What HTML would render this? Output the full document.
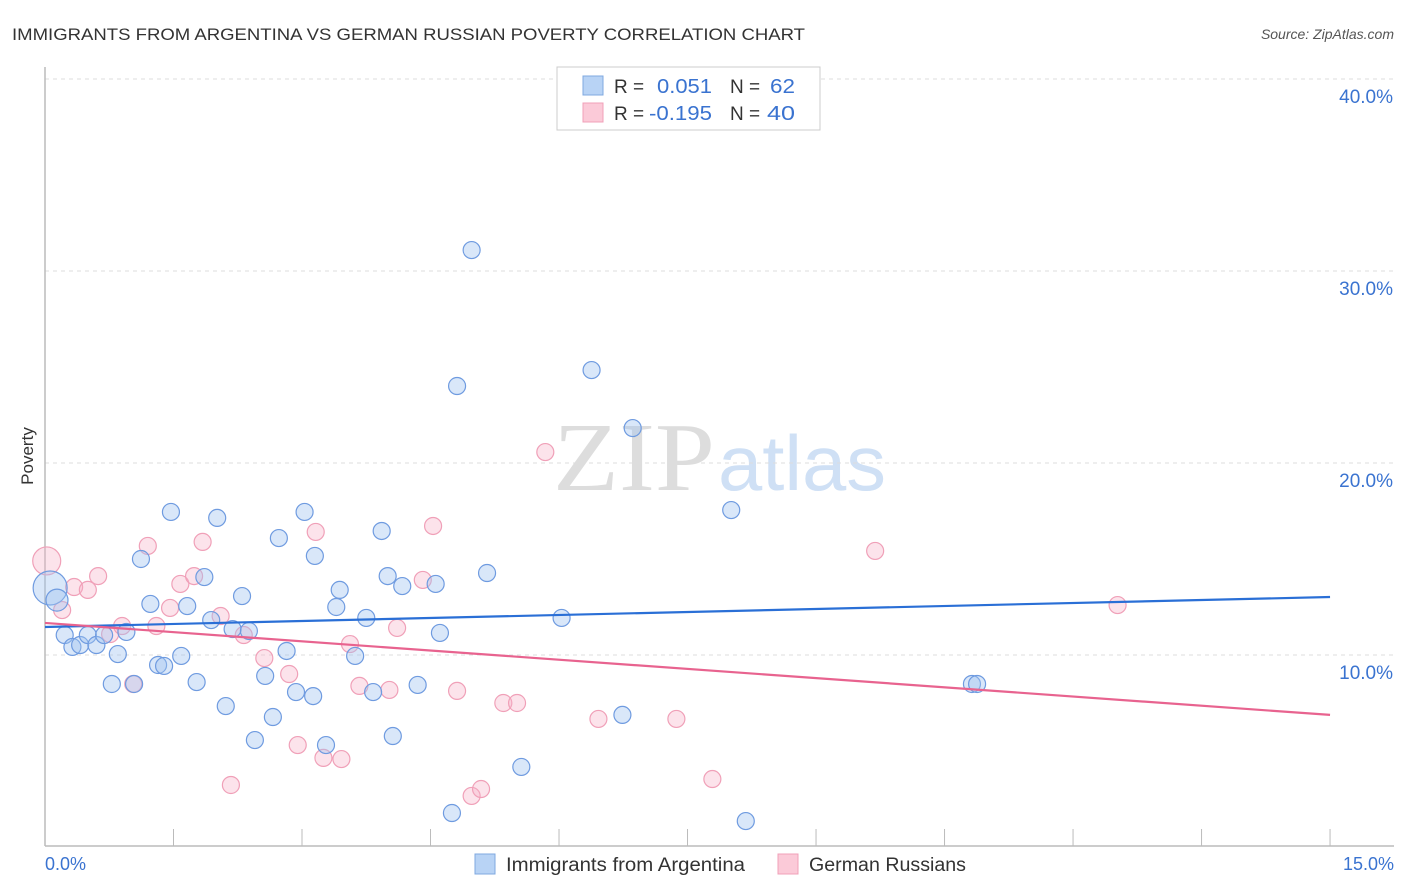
<!DOCTYPE html>
<html><head><meta charset="utf-8"><style>
body{margin:0;background:#fff;}
svg{display:block;font-family:"Liberation Sans",sans-serif;}
</style></head><body>
<svg id="chart" width="1406" height="892">
<text x="12" y="40" font-size="17" fill="#333" textLength="793" lengthAdjust="spacingAndGlyphs">IMMIGRANTS FROM ARGENTINA VS GERMAN RUSSIAN POVERTY CORRELATION CHART</text>
<text x="1394" y="39" font-size="14" fill="#555" font-style="italic" text-anchor="end">Source: ZipAtlas.com</text>
<g>
<text x="553" y="490" font-family="Liberation Serif,serif" font-size="98" fill="#ddd" textLength="162" lengthAdjust="spacingAndGlyphs">ZIP</text>
<text x="718" y="490" font-size="78" fill="#cfe0f5" textLength="168" lengthAdjust="spacingAndGlyphs">atlas</text>
</g>
<g id="grid"></g>
<g id="axes"></g>
<g id="marks"></g>
<text transform="translate(33,456) rotate(-90)" font-size="17" fill="#333" text-anchor="middle">Poverty</text>
<g>
<rect x="557" y="67" width="263" height="63" fill="#fff" stroke="#ccc"/>
<rect x="583" y="76" width="20" height="19" fill="#b8d3f5" stroke="#7fa8e0"/>
<rect x="583" y="103" width="20" height="19" fill="#fbcad8" stroke="#f0a0b8"/>
<text x="614" y="93" font-size="19" fill="#333">R =</text>
<text x="657" y="93" font-size="20" fill="#3a73d0" textLength="55" lengthAdjust="spacingAndGlyphs">0.051</text>
<text x="730" y="93" font-size="19" fill="#333">N =</text>
<text x="770" y="93" font-size="20" fill="#3a73d0" textLength="25" lengthAdjust="spacingAndGlyphs">62</text>
<text x="614" y="120" font-size="19" fill="#333">R =</text>
<text x="649" y="120" font-size="20" fill="#3a73d0" textLength="63" lengthAdjust="spacingAndGlyphs">-0.195</text>
<text x="730" y="120" font-size="19" fill="#333">N =</text>
<text x="767" y="120" font-size="20" fill="#3a73d0" textLength="28" lengthAdjust="spacingAndGlyphs">40</text>
</g>
<g>
<rect x="475" y="854" width="20" height="20" fill="#b8d3f5" stroke="#7fa8e0"/>
<text x="506" y="871" font-size="19" fill="#333" textLength="239" lengthAdjust="spacingAndGlyphs">Immigrants from Argentina</text>
<rect x="778" y="854" width="20" height="20" fill="#fbcad8" stroke="#f0a0b8"/>
<text x="809" y="871" font-size="19" fill="#333" textLength="157" lengthAdjust="spacingAndGlyphs">German Russians</text>
</g>
</svg>
<script>
const blueX=[0.06,0.14,0.23,0.32,0.41,0.50,0.60,0.69,0.78,0.85,0.95,1.04,1.12,1.23,1.32,1.39,1.47,1.59,1.66,1.77,1.86,1.94,2.01,2.11,2.19,2.30,2.38,2.45,2.57,2.66,2.73,2.82,2.93,3.03,3.13,3.15,3.28,3.40,3.44,3.62,3.75,3.83,3.93,4.00,4.06,4.17,4.35,4.56,4.61,4.75,4.81,4.98,5.16,5.56,6.03,6.38,6.74,6.86,8.01,8.18,10.82,10.88];
const blueY=[13.49,12.86,11.04,10.42,10.52,11.04,10.52,11.04,8.49,10.05,11.20,8.49,15.0,12.66,9.48,9.43,17.45,9.95,12.55,8.59,14.06,11.82,17.14,7.34,11.35,13.07,11.25,5.57,8.91,6.77,16.09,10.21,8.07,17.45,7.86,15.16,5.31,12.5,13.39,9.95,11.93,8.07,16.46,14.11,5.78,13.59,8.44,13.70,11.15,1.77,24.01,31.09,14.27,4.17,11.93,24.84,6.88,21.82,17.55,1.35,8.49,8.49];
const pinkX=[0.02,0.20,0.34,0.50,0.62,0.76,0.90,1.03,1.20,1.30,1.46,1.58,1.74,1.84,2.05,2.17,2.32,2.56,2.85,2.95,3.16,3.25,3.46,3.56,3.67,4.02,4.11,4.41,4.53,4.81,4.98,5.09,5.35,5.51,5.84,6.46,7.37,7.79,9.69,12.52];
const pinkY=[14.90,12.34,13.54,13.39,14.11,11.09,11.51,8.49,15.68,11.51,12.45,13.70,14.11,15.89,12.03,3.23,11.04,9.84,9.01,5.31,16.41,4.64,4.58,10.57,8.39,8.18,11.41,13.91,16.72,8.13,2.66,3.02,7.50,7.50,20.57,6.67,6.67,3.54,15.42,12.60];
const blueTrendX=[0,15], blueTrendY=[11.46,13.02];
const pinkTrendX=[0,15], pinkTrendY=[11.67,6.88];
const yTicks=[10,20,30,40];
const yTickLabels=["10.0%","20.0%","30.0%","40.0%"];
const xTicks=[0,1.5,3,4.5,6,7.5,9,10.5,12,13.5,15];

const NS="http://www.w3.org/2000/svg";
const sx=v=>45+v*85.67;
const sy=v=>847-v*19.2;
function mk(tag,attrs,parent){const e=document.createElementNS(NS,tag);for(const k in attrs)e.setAttribute(k,attrs[k]);parent.appendChild(e);return e;}
const grid=document.getElementById('grid'),axes=document.getElementById('axes'),marks=document.getElementById('marks');
yTicks.forEach((t,i)=>{
  const l=mk('line',{x1:45,x2:1393,y1:sy(t),y2:sy(t),stroke:'#ddd','stroke-dasharray':'4,4'},grid);
  
  
  const tx=mk('text',{x:1393,y:sy(t)+24,'font-size':19,fill:'#3a73d0','text-anchor':'end'},axes);
  tx.textContent=yTickLabels[i];
  
  
});
const ya=mk('line',{x1:45,x2:45,y1:67,y2:846,stroke:'#bbb','stroke-width':1.5},axes);


const xa=mk('line',{x1:45,x2:1394,y1:846,y2:846,stroke:'#bbb','stroke-width':1.5},axes);


xTicks.forEach(t=>{
  const l=mk('line',{x1:sx(t),x2:sx(t),y1:829,y2:846,stroke:'#bbb'},axes);
  
  
});
const x0=mk('text',{x:45,y:870,'font-size':18,fill:'#3a73d0'},axes);x0.textContent="0.0%";


const x1=mk('text',{x:1394,y:870,'font-size':18,fill:'#3a73d0','text-anchor':'end'},axes);x1.textContent="15.0%";



pinkX.forEach((x,i)=>{
  const c=mk('circle',{cx:sx(x),cy:sy(pinkY[i]),r:i===0?14:8.5,fill:'rgba(246,176,198,0.35)',stroke:'#f0a0b8','stroke-width':1.2},marks);
  
  
});
blueX.forEach((x,i)=>{
  const c=mk('circle',{cx:sx(x),cy:sy(blueY[i]),r:i===0?17:(i===1?11:8.5),fill:'rgba(160,195,240,0.4)',stroke:'#6f9be0','stroke-width':1.2},marks);
  
  
});
const bt=mk('line',{x1:sx(blueTrendX[0]),y1:sy(blueTrendY[0]),x2:sx(blueTrendX[1]),y2:sy(blueTrendY[1]),stroke:'#2a6fd6','stroke-width':2.2},marks);


const pt=mk('line',{x1:sx(pinkTrendX[0]),y1:sy(pinkTrendY[0]),x2:sx(pinkTrendX[1]),y2:sy(pinkTrendY[1]),stroke:'#e8638f','stroke-width':2.2},marks);


</script>
</body></html>
